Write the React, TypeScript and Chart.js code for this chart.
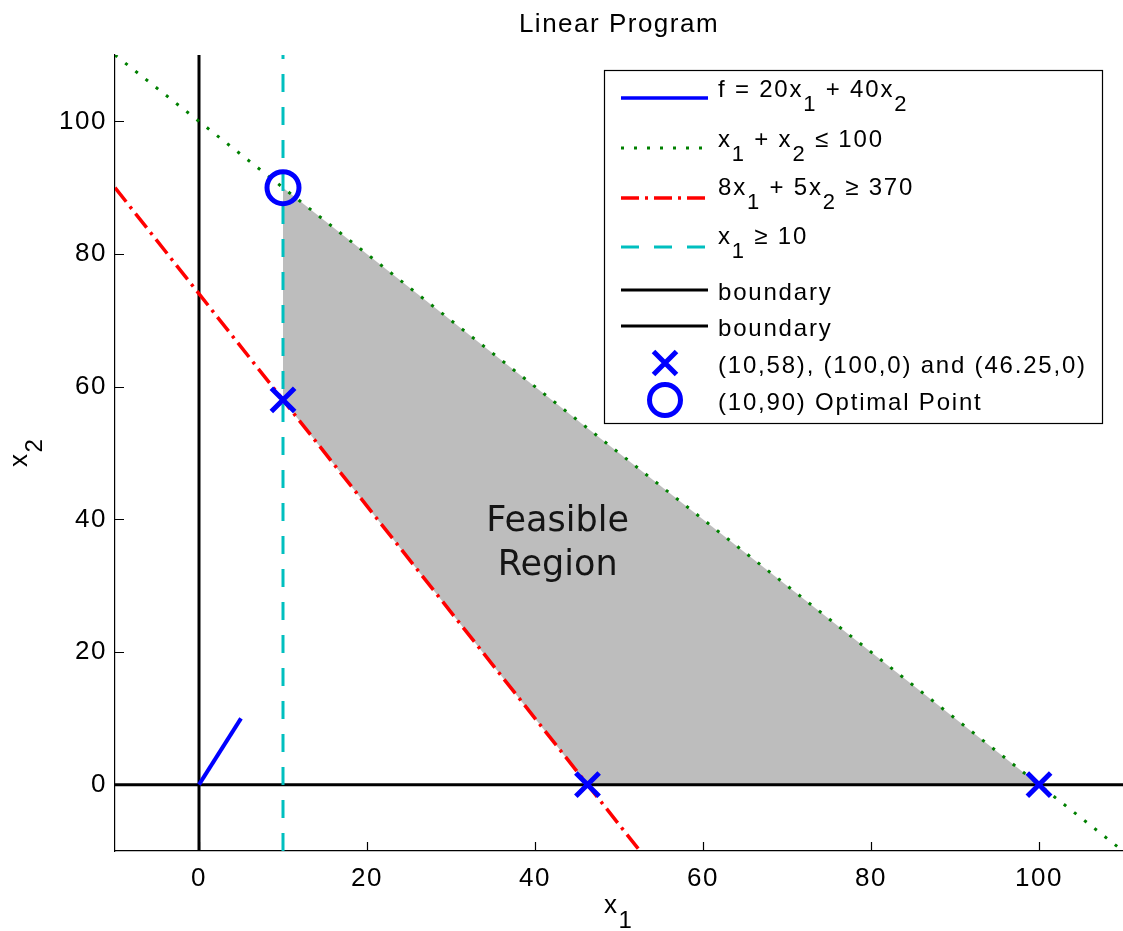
import React, { useEffect, useRef } from 'react';
import { Chart, registerables } from 'chart.js';
Chart.register(...registerables);

// ---- data ----
const xRange = [-10, 110];
const yRange = [-10, 110];
const xTicks = [0, 20, 40, 60, 80, 100];
const yTicks = [0, 20, 40, 60, 80, 100];

const objectiveX = [0, 5];
const objectiveY = [0, 10];
const sumX = [-10, 110]; // x1 + x2 <= 100
const sumY = [110, -10];
const mixX = [-10, 52.5]; // 8x1 + 5x2 >= 370
const mixY = [90, -10];
const minX = [10, 10]; // x1 >= 10
const minY = [-10, 110];
const vBoundX = [0, 0];
const vBoundY = [-10, 110];
const hBoundX = [-10, 110];
const hBoundY = [0, 0];
const vertexX = [10, 100, 46.25];
const vertexY = [58, 0, 0];
const optimalX = [10];
const optimalY = [90];
const regionX = [10, 10, 100, 46.25, 10];
const regionY = [58, 90, 0, 0, 58];
const regionLabel = ['Feasible', 'Region'];
const regionLabelPos = [42.7, 36.7];

type Seg = { t: string; sub?: boolean };
const titleText = 'Linear Program';
const xLabel: Seg[] = [{ t: 'x' }, { t: '1', sub: true }];
const yLabel: Seg[] = [{ t: 'x' }, { t: '2', sub: true }];
const legendLabels: Seg[][] = [
  [{ t: 'f = 20x' }, { t: '1', sub: true }, { t: ' + 40x' }, { t: '2', sub: true }],
  [{ t: 'x' }, { t: '1', sub: true }, { t: ' + x' }, { t: '2', sub: true }, { t: ' ≤ 100' }],
  [{ t: '8x' }, { t: '1', sub: true }, { t: ' + 5x' }, { t: '2', sub: true }, { t: ' ≥ 370' }],
  [{ t: 'x' }, { t: '1', sub: true }, { t: ' ≥ 10' }],
  [{ t: 'boundary' }],
  [{ t: 'boundary' }],
  [{ t: '(10,58), (100,0) and (46.25,0)' }],
  [{ t: '(10,90) Optimal Point' }],
];

const pts = (xs: number[], ys: number[]) => xs.map((x, i) => ({ x, y: ys[i] }));

const SANS = '"Liberation Sans", Arial, Helvetica, sans-serif';
const DEJAVU = '"DejaVu Sans", sans-serif';
const BLUE = 'rgb(0,0,255)';
const GREEN = 'rgb(0,128,0)';
const RED = 'rgb(255,0,0)';
const CYAN = 'rgb(0,191,191)';
const GRAY = 'rgb(189,189,189)';

const GREEN_DASH = [3, 10];
const RED_DASH = [18, 6, 3, 6];
const CYAN_DASH = [18, 15];

function drawRich(ctx: CanvasRenderingContext2D, segs: Seg[], x: number, y: number, size: number, family: string) {
  let cx = x;
  for (const s of segs) {
    const fs = s.sub ? Math.round(size * 0.92) : size;
    ctx.font = `${fs}px ${family}`;
    ctx.fillText(s.t, cx, s.sub ? y + size * 0.58 : y);
    cx += ctx.measureText(s.t).width;
  }
}

function drawCross(ctx: CanvasRenderingContext2D, x: number, y: number) {
  const h = 11.5;
  ctx.save();
  ctx.strokeStyle = BLUE;
  ctx.lineWidth = 5;
  ctx.setLineDash([]);
  ctx.beginPath();
  ctx.moveTo(x - h, y - h); ctx.lineTo(x + h, y + h);
  ctx.moveTo(x - h, y + h); ctx.lineTo(x + h, y - h);
  ctx.stroke();
  ctx.restore();
}

function drawCircle(ctx: CanvasRenderingContext2D, x: number, y: number) {
  ctx.save();
  ctx.strokeStyle = BLUE;
  ctx.lineWidth = 5;
  ctx.setLineDash([]);
  ctx.beginPath();
  ctx.arc(x, y, 15.5, 0, Math.PI * 2);
  ctx.stroke();
  ctx.restore();
}

const decorPlugin = {
  id: 'decor',
  beforeDraw(chart: any) {
    const ctx = chart.ctx;
    ctx.save();
    ctx.fillStyle = '#fff';
    ctx.fillRect(0, 0, chart.width, chart.height);
    ctx.restore();
    (ctx as any).letterSpacing = '1.5px';
  },
  afterDraw(chart: any) {
    const ctx: CanvasRenderingContext2D = chart.ctx;
    const xs = chart.scales.x;
    const ys = chart.scales.y;
    const area = chart.chartArea;
    ctx.save();
    // inward ticks
    ctx.strokeStyle = '#000';
    ctx.lineWidth = 1.2;
    ctx.setLineDash([]);
    ctx.beginPath();
    for (const v of xTicks) {
      const px = Math.round(xs.getPixelForValue(v)) + 0.5;
      ctx.moveTo(px, area.bottom);
      ctx.lineTo(px, area.bottom - 9);
    }
    for (const v of yTicks) {
      const py = Math.round(ys.getPixelForValue(v)) + 0.5;
      ctx.moveTo(area.left, py);
      ctx.lineTo(area.left + 9, py);
    }
    ctx.stroke();

    // region label
    (ctx as any).letterSpacing = '0px';
    ctx.fillStyle = '#151515';
    ctx.font = `35px ${DEJAVU}`;
    ctx.textAlign = 'center';
    ctx.textBaseline = 'alphabetic';
    const lx = xs.getPixelForValue(regionLabelPos[0]);
    const ly = ys.getPixelForValue(regionLabelPos[1]);
    ctx.fillText(regionLabel[0], lx, ly - 10);
    ctx.fillText(regionLabel[1], lx, ly + 34);

    // title
    (ctx as any).letterSpacing = '1.5px';
    ctx.fillStyle = '#000';
    ctx.font = `26px ${SANS}`;
    ctx.textAlign = 'center';
    ctx.fillText(titleText, 619, 32);

    // axis labels
    ctx.textAlign = 'left';
    drawRich(ctx, xLabel, 604, 913, 26, SANS);
    ctx.save();
    ctx.translate(27, 467);
    ctx.rotate(-Math.PI / 2);
    drawRich(ctx, yLabel, 0, 0, 26, SANS);
    ctx.restore();

    // legend
    const L = 604, T = 70, R = 1102, B = 423;
    ctx.fillStyle = '#fff';
    ctx.fillRect(L, T, R - L, B - T);
    ctx.strokeStyle = '#000';
    ctx.lineWidth = 1.2;
    ctx.strokeRect(L + 0.5, T + 0.5, R - L, B - T);

    const lineY = [98, 148, 198, 247, 290, 326, 363, 400];
    const textY = [97, 147, 195, 244, 300, 336, 373, 410];
    const styles: any[] = [
      { c: BLUE, w: 3.5, d: [] },
      { c: GREEN, w: 3, d: GREEN_DASH },
      { c: RED, w: 3.5, d: RED_DASH },
      { c: CYAN, w: 3, d: CYAN_DASH },
      { c: '#000', w: 3, d: [] },
      { c: '#000', w: 3, d: [] },
      { m: 'cross' },
      { m: 'circle' },
    ];
    styles.forEach((s, i) => {
      if (s.m === 'cross') drawCross(ctx, 665, lineY[i]);
      else if (s.m === 'circle') drawCircle(ctx, 665, lineY[i]);
      else {
        ctx.save();
        ctx.strokeStyle = s.c;
        ctx.lineWidth = s.w;
        ctx.setLineDash(s.d);
        ctx.beginPath();
        ctx.moveTo(621, lineY[i]);
        ctx.lineTo(708, lineY[i]);
        ctx.stroke();
        ctx.restore();
      }
      ctx.fillStyle = '#000';
      (ctx as any).letterSpacing = '1.8px';
      drawRich(ctx, legendLabels[i], 718, textY[i], 24, SANS);
    });
    ctx.restore();
  },
};

export default function App() {
  const ref = useRef<HTMLCanvasElement>(null);
  useEffect(() => {
    document.body.style.margin = '0';
    const lineDs = (label: string, xs: number[], ys: number[], color: string, width: number, dash: number[], order: number) => ({
      label,
      data: pts(xs, ys),
      showLine: true,
      borderColor: color,
      borderWidth: width,
      borderDash: dash,
      borderCapStyle: 'butt',
      pointRadius: 0,
      fill: false,
      order,
    });
    const chart = new Chart(ref.current!, {
      type: 'scatter',
      data: {
        datasets: [
          {
            label: 'region',
            data: pts(regionX, regionY),
            showLine: true,
            borderColor: 'rgba(0,0,0,0)',
            borderWidth: 0,
            backgroundColor: GRAY,
            fill: 'shape',
            pointRadius: 0,
            order: 20,
          } as any,
          lineDs('boundary', vBoundX, vBoundY, '#000', 3, [], 10),
          lineDs('boundary', hBoundX, hBoundY, '#000', 3, [], 9),
          lineDs('x1 + x2 <= 100', sumX, sumY, GREEN, 3, GREEN_DASH, 6),
          lineDs('8x1 + 5x2 >= 370', mixX, mixY, RED, 3.5, RED_DASH, 5),
          lineDs('x1 >= 10', minX, minY, CYAN, 3, CYAN_DASH, 4),
          lineDs('f = 20x1 + 40x2', objectiveX, objectiveY, BLUE, 4, [], 3),
          {
            label: 'vertices',
            data: pts(vertexX, vertexY),
            showLine: false,
            pointStyle: 'crossRot',
            pointRadius: 16.5,
            pointBorderWidth: 5,
            pointBorderColor: BLUE,
            pointBackgroundColor: BLUE,
            order: 1,
          } as any,
          {
            label: 'optimal',
            data: pts(optimalX, optimalY),
            showLine: false,
            pointStyle: 'circle',
            pointRadius: 16,
            pointBorderWidth: 5,
            pointBorderColor: BLUE,
            pointBackgroundColor: 'rgba(0,0,0,0)',
            order: 0,
          } as any,
        ] as any,
      },
      options: {
        responsive: false,
        animation: false,
        devicePixelRatio: 1,
        events: [],
        layout: { autoPadding: false, padding: { top: 55, left: 0, right: 0, bottom: 0 } },
        plugins: {
          legend: { display: false },
          title: { display: false },
          tooltip: { enabled: false },
        },
        scales: {
          x: {
            type: 'linear',
            min: xRange[0],
            max: xRange[1],
            afterBuildTicks: (s: any) => { s.ticks = xTicks.map((v) => ({ value: v })); },
            afterFit: (s: any) => { s.height = 80; s.paddingLeft = 0; s.paddingRight = 0; },
            grid: { display: false, drawTicks: false },
            border: { display: true, color: '#000', width: 1.2 },
            ticks: { color: '#000', font: { family: SANS, size: 26 }, padding: 12, maxRotation: 0, autoSkip: false },
          },
          y: {
            type: 'linear',
            min: yRange[0],
            max: yRange[1],
            afterBuildTicks: (s: any) => { s.ticks = yTicks.map((v) => ({ value: v })); },
            afterFit: (s: any) => { s.width = 115; s.paddingTop = 0; s.paddingBottom = 0; },
            grid: { display: false, drawTicks: false },
            border: { display: true, color: '#000', width: 1.2 },
            ticks: { color: '#000', font: { family: SANS, size: 26 }, padding: 8, autoSkip: false },
          },
        },
      } as any,
      plugins: [decorPlugin],
    });
    return () => chart.destroy();
  }, []);
  return <canvas ref={ref} width={1123} height={931} style={{ display: 'block', width: 1123, height: 931 }} />;
}
